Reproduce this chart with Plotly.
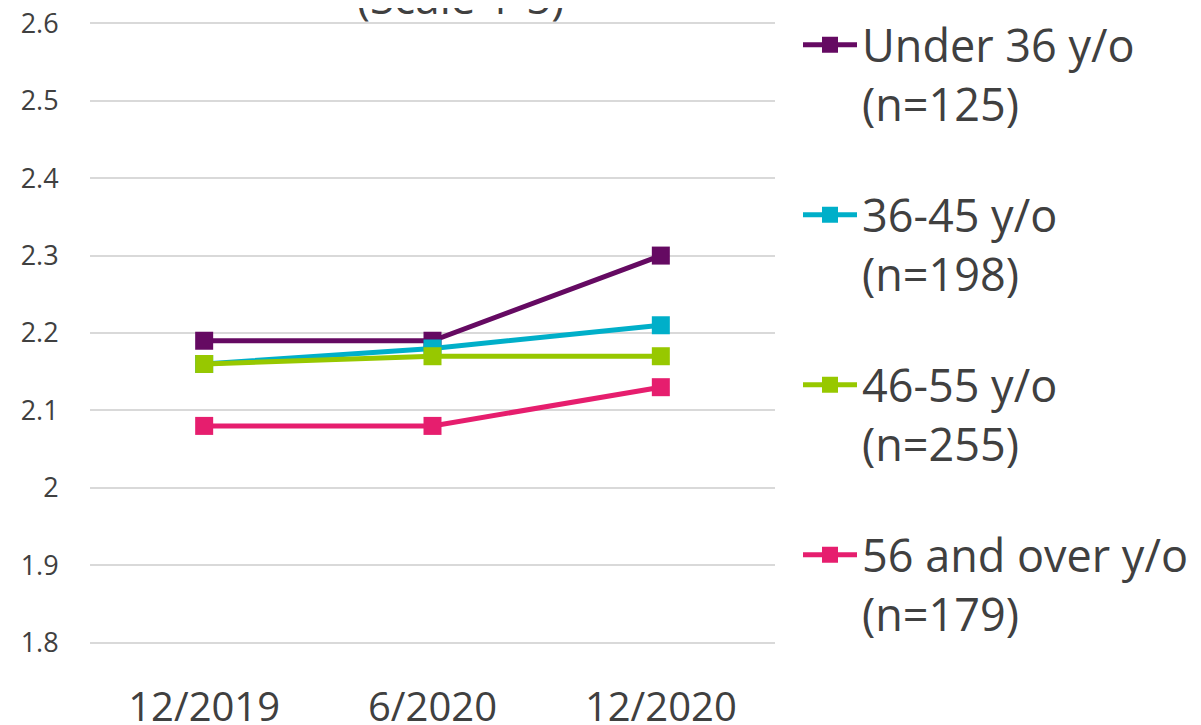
import plotly.graph_objects as go

periods = ["12/2019", "6/2020", "12/2020"]
series_names = ["Under 36 y/o<br>(n=125)", "36-45 y/o<br>(n=198)",
                "46-55 y/o<br>(n=255)", "56 and over y/o<br>(n=179)"]
under36 = [2.19, 2.19, 2.30]
age36_45 = [2.16, 2.18, 2.21]
age46_55 = [2.16, 2.17, 2.17]
age56_over = [2.08, 2.08, 2.13]
colors = ["#650A62", "#00AFC9", "#97C800", "#E61E6E"]
y_ticks = [1.8, 1.9, 2.0, 2.1, 2.2, 2.3, 2.4, 2.5, 2.6]
y_tick_text = ["1.8", "1.9", "2", "2.1", "2.2", "2.3", "2.4", "2.5", "2.6"]

FONT = "Open Sans, Noto Sans, sans-serif"
TXT = "#404040"

W, H = 1193, 717
L, T, R, B = 82, 13, 1193 - 767, 80
PH = H - T - B
PW = W - L - R

fig = go.Figure()
for i, (name, vals, col) in enumerate(zip(series_names, [under36, age36_45, age46_55, age56_over], colors)):
    fig.add_trace(go.Scatter(
        x=periods, y=vals, name=name, mode="lines+markers",
        legendgroup=f"g{i}",
        line=dict(color=col, width=5),
        marker=dict(symbol="square", size=18, color=col),
    ))

fig.update_layout(
    width=W, height=H,
    margin=dict(l=L, r=R, t=T, b=B, autoexpand=False),
    paper_bgcolor="white", plot_bgcolor="white",
    font=dict(family=FONT, color=TXT),
    showlegend=True,
    legend=dict(
        x=1 + 23 / PW, xanchor="left", y=1 + 12 / PH, yanchor="top",
        font=dict(size=45, color=TXT, family=FONT),
        tracegroupgap=50, valign="top", itemwidth=54,
        maxheight=700,
        bgcolor="rgba(0,0,0,0)",
    ),
    xaxis=dict(
        type="category", range=[-0.5, 2.5], automargin=False,
        showgrid=False, zeroline=False, showline=False,
        ticks="outside", ticklen=27, tickcolor="rgba(0,0,0,0)",
        ticklabeloverflow="allow",
        tickfont=dict(size=40, color=TXT, family=FONT),
    ),
    yaxis=dict(
        range=[1.797, 2.603], tickvals=y_ticks, ticktext=y_tick_text,
        automargin=False,
        showgrid=True, gridcolor="#D9D9D9", gridwidth=1.5,
        zeroline=False, showline=False,
        ticks="outside", ticklen=25, tickcolor="rgba(0,0,0,0)",
        ticklabeloverflow="allow",
        tickfont=dict(size=27, color=TXT, family=FONT),
    ),
    annotations=[dict(
        text="(Scale 1-5)", xref="paper", yref="paper",
        x=(452 - L) / PW, xanchor="center",
        y=1 - 8 / PH, yanchor="bottom",
        showarrow=False, font=dict(size=44, color=TXT, family=FONT),
    )],
)

fig.write_html("out.html")
